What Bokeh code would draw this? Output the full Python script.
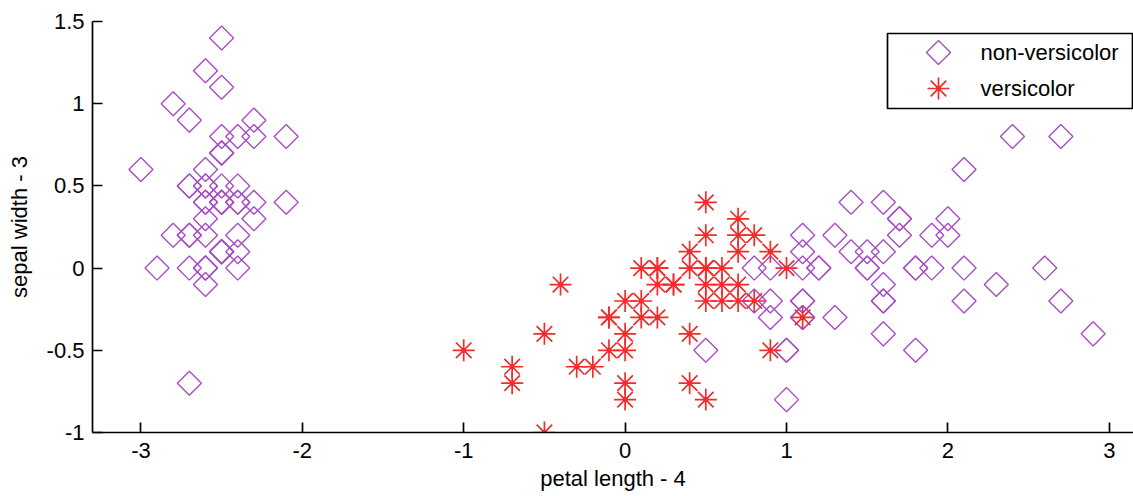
from bokeh.plotting import figure
from bokeh.models import Range1d, FixedTicker
from bokeh.core.properties import value
from bokeh.embed import file_html
from bokeh.resources import INLINE
import math

# non-versicolor (setosa + virginica): petal length - 4, sepal width - 3
nonv_x = [-2.6, -2.6, -2.7, -2.5, -2.6, -2.3, -2.6, -2.5, -2.6, -2.5,
          -2.5, -2.4, -2.6, -2.9, -2.8, -2.5, -2.7, -2.6, -2.3, -2.5,
          -2.3, -2.5, -3.0, -2.3, -2.1, -2.4, -2.4, -2.5, -2.6, -2.4,
          -2.4, -2.5, -2.5, -2.6, -2.5, -2.8, -2.7, -2.5, -2.7, -2.5,
          -2.7, -2.7, -2.7, -2.4, -2.1, -2.6, -2.4, -2.6, -2.5, -2.6,
          2.0, 1.1, 1.9, 1.6, 1.8, 2.6, 0.5, 2.3, 1.8, 2.1,
          1.1, 1.3, 1.5, 1.0, 1.1, 1.3, 1.5, 2.7, 2.9, 1.0,
          1.7, 0.9, 2.7, 0.9, 1.7, 2.0, 0.8, 0.9, 1.6, 1.8,
          2.1, 2.4, 1.6, 1.1, 1.6, 2.1, 1.6, 1.5, 0.8, 1.4,
          1.6, 1.1, 1.1, 1.9, 1.7, 1.2, 1.0, 1.2, 1.4, 1.1]
nonv_y = [0.5, 0.0, 0.2, 0.1, 0.6, 0.9, 0.4, 0.4, -0.1, 0.1,
          0.7, 0.4, 0.0, 0.0, 1.0, 1.4, 0.9, 0.5, 0.8, 0.8,
          0.4, 0.7, 0.6, 0.3, 0.4, 0.0, 0.4, 0.5, 0.4, 0.2,
          0.1, 0.4, 1.1, 1.2, 0.1, 0.2, 0.5, 0.1, 0.0, 0.4,
          0.5, -0.7, 0.2, 0.5, 0.8, 0.0, 0.8, 0.2, 0.7, 0.3,
          0.3, -0.3, 0.0, -0.1, 0.0, 0.0, -0.5, -0.1, -0.5, 0.6,
          0.2, -0.3, 0.0, -0.5, -0.2, 0.2, 0.0, 0.8, -0.4, -0.8,
          0.2, -0.2, -0.2, -0.3, 0.3, 0.2, -0.2, 0.0, -0.2, 0.0,
          -0.2, 0.8, -0.2, -0.2, -0.4, 0.0, 0.4, 0.1, 0.0, 0.1,
          0.1, 0.1, -0.3, 0.2, 0.3, 0.0, -0.5, 0.0, 0.4, 0.0]

# versicolor
vers_x = [0.7, 0.5, 0.9, 0.0, 0.6, 0.5, 0.7, -0.7, 0.6, -0.1,
          -0.5, 0.2, 0.0, 0.7, -0.4, 0.4, 0.5, 0.1, 0.5, -0.1,
          0.8, 0.0, 0.9, 0.7, 0.3, 0.4, 0.8, 1.0, 0.5, -0.5,
          -0.2, -0.3, -0.1, 1.1, 0.5, 0.5, 0.7, 0.4, 0.1, 0.0,
          0.4, 0.6, 0.0, -0.7, 0.2, 0.2, 0.2, 0.3, -1.0, 0.1]
vers_y = [0.2, 0.2, 0.1, -0.7, -0.2, -0.2, 0.3, -0.6, -0.1, -0.3,
          -1.0, 0.0, -0.8, -0.1, -0.1, 0.1, 0.0, -0.3, -0.8, -0.5,
          0.2, -0.2, -0.5, -0.2, -0.1, 0.0, -0.2, 0.0, -0.1, -0.4,
          -0.6, -0.6, -0.3, -0.3, 0.0, 0.4, 0.1, -0.7, 0.0, -0.5,
          -0.4, 0.0, -0.4, -0.7, -0.3, 0.0, -0.1, -0.1, -0.5, -0.2]

series_labels = ["non-versicolor", "versicolor"]

x_ticks = [-3, -2, -1, 0, 1, 2, 3]
x_tick_labels = ["-3", "-2", "-1", "0", "1", "2", "3"]
y_ticks = [-1, -0.5, 0, 0.5, 1, 1.5]
y_tick_labels = ["-1", "-0.5", "0", "0.5", "1", "1.5"]

PURPLE = "#A64FC4"
RED = "#F22B2B"
FONT = "Liberation Sans"
FS = "22px"

FW, FH = 1041, 411  # frame size in px
p = figure(width=1133, height=496, output_backend="svg", toolbar_location=None,
           x_range=Range1d(-3.3, 3.15), y_range=Range1d(-1, 1.5),
           min_border_left=92, min_border_right=0, min_border_top=21,
           min_border_bottom=64)
p.extra_x_ranges = {"px": Range1d(0, FW)}
p.extra_y_ranges = {"px": Range1d(0, FH)}
p.outline_line_color = None
p.xgrid.grid_line_color = None
p.ygrid.grid_line_color = None
p.background_fill_color = "white"
p.border_fill_color = "white"

p.scatter(nonv_x, nonv_y, marker="square", angle=math.pi / 4, size=17,
          fill_color=None, line_color=PURPLE, line_width=1.4)
p.scatter(vers_x, vers_y, marker="asterisk", size=22,
          line_color=RED, line_width=1.7)
p.scatter(vers_x, vers_y, marker="circle", size=4,
          fill_color=RED, line_color=RED)

for ax, ticks, labels in ((p.xaxis[0], x_ticks, x_tick_labels),
                          (p.yaxis[0], y_ticks, y_tick_labels)):
    ax.ticker = FixedTicker(ticks=ticks)
    ax.major_label_overrides = {t: l for t, l in zip(ticks, labels)}
    ax.major_tick_in = 10
    ax.major_tick_out = 0
    ax.minor_tick_line_color = None
    ax.axis_line_color = "black"
    ax.axis_line_width = 1.7
    ax.major_tick_line_color = "black"
    ax.major_tick_line_width = 1.7
    ax.major_label_text_font = FONT
    ax.major_label_text_font_size = FS
    ax.major_label_text_color = "black"
    ax.axis_label_text_font = FONT
    ax.axis_label_text_font_size = FS
    ax.axis_label_text_font_style = "normal"
    ax.axis_label_text_color = "black"

p.xaxis.axis_label = "petal length - 4"
p.yaxis.axis_label = "sepal width - 3"
p.xaxis.major_label_standoff = 10
p.yaxis.major_label_standoff = 8
p.xaxis.axis_label_standoff = 5
p.yaxis.axis_label_standoff = 12

# legend box (frame pixel coordinates, origin at frame bottom-left)
p.quad(left=[795], right=[1040], bottom=[324], top=[399],
       fill_color="white", line_color="black", line_width=1.7,
       x_range_name="px", y_range_name="px")
p.scatter([846], [380], marker="square", angle=math.pi / 4, size=17,
          fill_color=None, line_color=PURPLE, line_width=1.4,
          x_range_name="px", y_range_name="px")
p.scatter([846], [344], marker="asterisk", size=22, line_color=RED,
          line_width=1.7, x_range_name="px", y_range_name="px")
p.scatter([846], [344], marker="circle", size=4, fill_color=RED,
          line_color=RED, x_range_name="px", y_range_name="px")
p.text([888, 888], [380, 344], text=series_labels, text_font=value(FONT),
       text_font_size=value(FS), text_baseline="middle", text_align="left",
       text_color="black", x_range_name="px", y_range_name="px")

open("out.html", "w").write(file_html(p, INLINE))
